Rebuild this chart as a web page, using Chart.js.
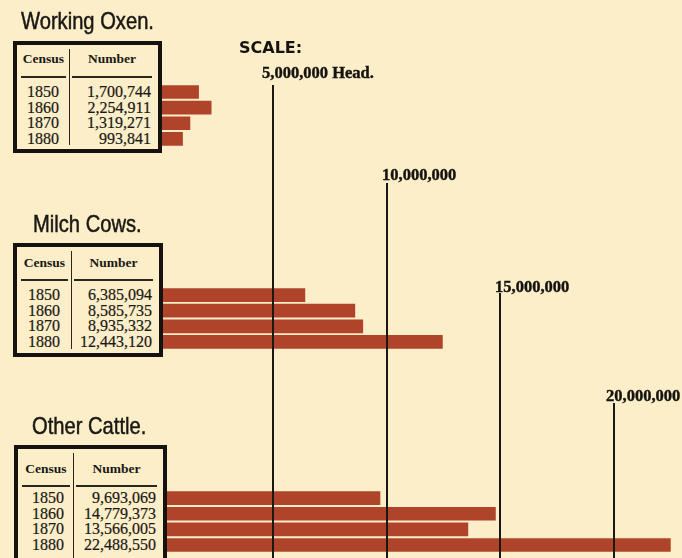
<!DOCTYPE html>
<html>
<head>
<meta charset="utf-8">
<script src="https://cdn.jsdelivr.net/npm/chart.js@4.4.1/dist/chart.umd.min.js"></script>
<style>
  html, body { margin: 0; padding: 0; background: #fbeec8; }
  #wrap { position: relative; width: 682px; height: 558px; overflow: hidden; background: #fbeec8; }
  #chart { position: absolute; left: 0; top: 0; }
  .title {
    position: absolute; white-space: nowrap; line-height: 24px; height: 24px;
    font-family: "Liberation Sans", sans-serif;
    font-size: 24px; color: #1a1814;
    -webkit-text-stroke: 0.5px #1a1814;
    transform: scaleX(0.84); transform-origin: 0 0;
  }
  .box {
    position: absolute; box-sizing: border-box; border: 4px solid #15130f;
    background: #fbeec8; z-index: 2;
  }
  .box div { position: absolute; white-space: nowrap; color: #1a1814; }
  .hd { font-family: "Liberation Serif", serif; font-weight: bold; font-size: 13.5px; line-height: 13px; }
  .row { font-family: "Liberation Serif", serif; font-size: 16px; line-height: 16px; -webkit-text-stroke: 0.2px #1a1814; }
  .rule { height: 1.5px; background: #2a2620; }
  .divider { width: 1px; background: #2a2620; }
</style>
</head>
<body>
<div id="wrap">
  <canvas id="chart" width="682" height="558"></canvas>
</div>
<script>
// livestock on farms, by census year
const groupNames = ['Working Oxen.', 'Milch Cows.', 'Other Cattle.'];
const censusYears = ['1850', '1860', '1870', '1880'];
const workingOxen = [1700744, 2254911, 1319271, 993841];
const milchCows = [6385094, 8585735, 8935332, 12443120];
const otherCattle = [9693069, 14779373, 13566005, 22488550];
const scaleTicks = [5000000, 10000000, 15000000, 20000000];
const scaleLabels = ['5,000,000 Head.', '10,000,000', '15,000,000', '20,000,000'];

const groups = [workingOxen, milchCows, otherCattle];
const GAP_ROWS = 9;
const BAR_COLOR = '#b0442b';

// one category row per census year, with blank rows between the groups
const rowLabels = [];
const rowIndex = [];
groups.forEach((values, g) => {
    rowIndex.push([]);
    censusYears.forEach(year => {
        rowIndex[g].push(rowLabels.length);
        rowLabels.push(groupNames[g] + ' ' + year);
    });
    if (g < groups.length - 1) {
        for (let i = 0; i < GAP_ROWS; i++) rowLabels.push('');
    }
});

const datasets = groups.map((values, g) => {
    const data = rowLabels.map(() => null);
    values.forEach((v, i) => { data[rowIndex[g][i]] = v; });
    return {
        label: groupNames[g],
        data: data,
        backgroundColor: BAR_COLOR,
        borderWidth: 0,
        barThickness: 13,
        grouped: false
    };
});

// vertical scale rules, drawn over the bars
const scaleRules = {
    id: 'scaleRules',
    afterDatasetsDraw(chart, args, opts) {
        const ctx = chart.ctx;
        const x = chart.scales.x;
        ctx.save();
        ctx.fillStyle = '#15130f';
        ctx.font = 'bold 16px "DejaVu Sans", sans-serif';
        ctx.textBaseline = 'alphabetic';
        ctx.fillText('SCALE:', 239, 53);

        scaleTicks.forEach((v, i) => {
            const px = Math.round(x.getPixelForValue(v));
            ctx.strokeStyle = '#1a1814';
            ctx.lineWidth = 2;
            ctx.beginPath();
            ctx.moveTo(px, opts.lineTops[i]);
            ctx.lineTo(px, chart.height);
            ctx.stroke();

            ctx.font = 'bold 16.5px "Liberation Serif", serif';
            ctx.fillStyle = '#15130f';
            ctx.strokeStyle = '#15130f';
            ctx.lineWidth = 0.4;
            const tx = px + opts.labelShift[i];
            ctx.fillText(scaleLabels[i], tx, opts.labelBaselines[i]);
            ctx.strokeText(scaleLabels[i], tx, opts.labelBaselines[i]);
        });
        ctx.restore();
    }
};

const chart = new Chart(document.getElementById('chart'), {
    type: 'bar',
    data: { labels: rowLabels, datasets: datasets },
    options: {
        indexAxis: 'y',
        responsive: false,
        animation: false,
        devicePixelRatio: 1,
        layout: { padding: { left: 160, right: 0, top: 84.2, bottom: 5.2 } },
        scales: {
            x: { type: 'linear', min: 0, max: 23000000, display: false },
            y: { type: 'category', display: false }
        },
        plugins: {
            legend: { display: false },
            tooltip: { enabled: false },
            scaleRules: {
                lineTops: [85, 183, 293, 403],
                labelBaselines: [78, 180, 292, 401],
                labelShift: [-11, -5, -5, -8]
            }
        }
    },
    plugins: [scaleRules]
});

// census tables, rows lined up with the bars
const wrap = document.getElementById('wrap');
const boxes = [
    { left: 13, top: 41, width: 149, height: 112, div: 56, hdBase: 22, rule: 35, yearX: 14, titleX: 21, titleBase: 29 },
    { left: 13, top: 243, width: 150, height: 114, div: 58, hdBase: 24, rule: 36, yearX: 15, titleX: 33, titleBase: 232 },
    { left: 14, top: 445, width: 153, height: 130, div: 59, hdBase: 28, rule: 40, yearX: 18, titleX: 32, titleBase: 434 }
];
const B = 4; // border width

function el(parent, cls, css, text) {
    const d = document.createElement('div');
    d.className = cls;
    Object.assign(d.style, css);
    if (text !== undefined) d.textContent = text;
    parent.appendChild(d);
    return d;
}

groups.forEach((values, g) => {
    const b = boxes[g];
    el(wrap, 'title', { left: b.titleX + 'px', top: (b.titleBase - 20) + 'px' }, groupNames[g]);

    const box = el(wrap, 'box', {
        left: b.left + 'px', top: b.top + 'px', width: b.width + 'px', height: b.height + 'px'
    });
    // inner coordinates are measured from the outer corner, minus the border
    const lx = (v) => (v - B) + 'px';

    el(box, 'divider', { left: lx(b.div), top: lx(8), height: (b.height - 2 * B - 8) + 'px' });

    const leftEnd = b.div - 3, rightStart = b.div + 3, rightEnd = b.width - 10;
    el(box, 'rule', { left: lx(8), top: lx(b.rule), width: (leftEnd - 8) + 'px' });
    el(box, 'rule', { left: lx(rightStart), top: lx(b.rule), width: (rightEnd - rightStart) + 'px' });

    el(box, 'hd', { left: lx(8), top: lx(b.hdBase - 11), width: (leftEnd - 8) + 'px', textAlign: 'center' }, 'Census');
    el(box, 'hd', { left: lx(rightStart), top: lx(b.hdBase - 11), width: (rightEnd - rightStart) + 'px', textAlign: 'center' }, 'Number');

    values.forEach((v, i) => {
        const cy = chart.scales.y.getPixelForValue(rowIndex[g][i]) - b.top;
        el(box, 'row', { left: lx(b.yearX), top: lx(cy - 8) }, censusYears[i]);
        el(box, 'row', { right: (11 - B) + 'px', top: lx(cy - 8), textAlign: 'right' }, v.toLocaleString('en-US'));
    });
});
</script>
</body>
</html>
